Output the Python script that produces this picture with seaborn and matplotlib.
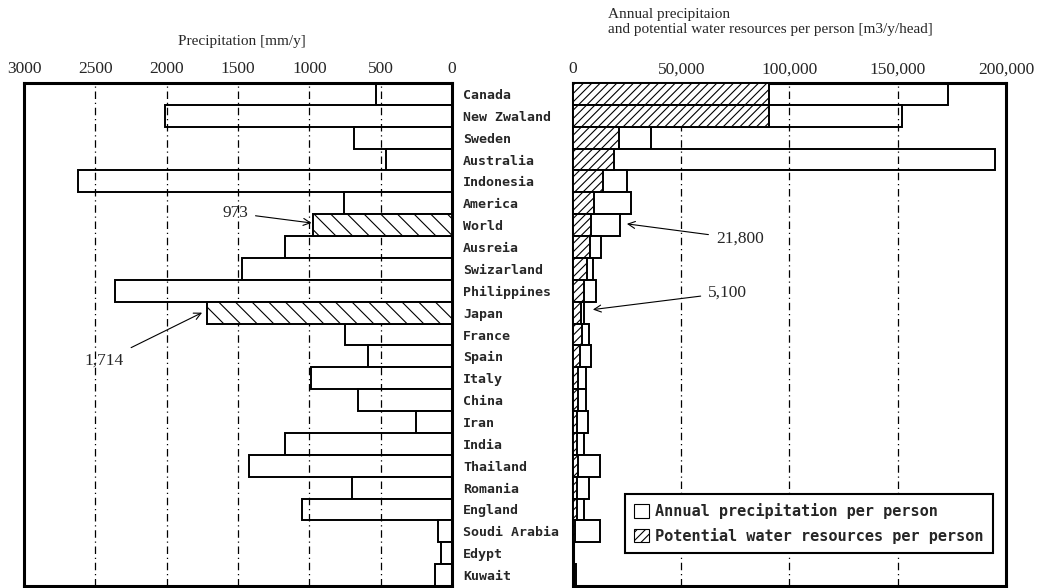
import pandas as pd
import seaborn as sns
import matplotlib.pyplot as plt
from matplotlib.patches import Patch
from matplotlib.ticker import FuncFormatter

countries = ["Canada", "New Zwaland", "Sweden", "Australia", "Indonesia", "America",
             "World", "Ausreia", "Swizarland", "Philippines", "Japan", "France",
             "Spain", "Italy", "China", "Iran", "India", "Thailand", "Romania",
             "England", "Soudi Arabia", "Edypt", "Kuwait"]
# precipitation [mm/y]
precip = [530, 2010, 685, 460, 2620, 755, 973, 1170, 1470, 2360, 1714, 750,
          590, 990, 660, 250, 1170, 1420, 700, 1050, 100, 75, 120]
# annual precipitation per person [m3/y/head]
annual = [173000, 151800, 36000, 194900, 25000, 26600, 21800, 12900, 9400, 10500,
          5100, 7500, 8100, 5800, 5800, 7100, 5100, 12400, 7400, 5200, 12400, 600, 1500]
# potential water resources per person [m3/y/head]
potential = [90500, 90500, 21200, 18900, 13700, 9700, 8200, 7800, 6300, 5200,
             3600, 4000, 3200, 2500, 2200, 1900, 1900, 2500, 1900, 1800, 800, 100, 50]

left_ticks = [3000, 2500, 2000, 1500, 1000, 500, 0]
right_ticks = [0, 50000, 100000, 150000, 200000]

df = pd.DataFrame({"country": countries, "precip": precip,
                   "annual": annual, "potential": potential})

sns.set_style("white")
plt.rcParams["font.family"] = ["Liberation Serif", "DejaVu Serif"]
plt.rcParams["hatch.linewidth"] = 0.8
MONO = "DejaVu Sans Mono"
grid_ls = (0, (6, 3, 1, 3))

fig = plt.figure(figsize=(10.41, 5.88), dpi=100)
ax1 = fig.add_axes([0.0231, 0.0034, 0.4111, 0.8554])
ax2 = fig.add_axes([0.5504, 0.0034, 0.416, 0.8554])

# ---- left: precipitation
sns.barplot(data=df, x="precip", y="country", orient="h", color="white",
            edgecolor="black", linewidth=1.4, width=1.0, saturation=1, ax=ax1)
for name, bar in zip(countries, ax1.patches):
    if name in ("World", "Japan"):
        bar.set_hatch("\\\\")
        bar.set_zorder(3)
for v in left_ticks[1:-1]:
    ax1.axvline(v, color="black", lw=0.9, ls=grid_ls, zorder=2)
ax1.set_xlim(3000, 0)
ax1.set_xticks(left_ticks)
ax1.xaxis.tick_top()
ax1.yaxis.tick_right()
ax1.tick_params(axis="x", length=0, pad=4, labelsize=12.5)
ax1.tick_params(axis="y", length=0, pad=8)
for lab in ax1.get_yticklabels():
    lab.set_fontfamily(MONO)
    lab.set_fontsize(9.5)
    lab.set_fontweight("bold")
    lab.set_horizontalalignment("left")
ax1.set_xlabel("")
ax1.set_ylabel("")

ax1.annotate("973", xy=(985, 5.9), xytext=(1520, 5.45), fontsize=12.5,
             ha="center", va="center",
             arrowprops=dict(arrowstyle="->", lw=0.8, color="black", shrinkA=3, shrinkB=0))
ax1.annotate("1,714", xy=(1752, 10.0), xytext=(2436, 12.2), fontsize=12.5,
             ha="center", va="center",
             arrowprops=dict(arrowstyle="->", lw=0.8, color="black", shrinkA=3, shrinkB=0))

# ---- right: per person
sns.barplot(data=df, x="annual", y="country", orient="h", color="white",
            edgecolor="black", linewidth=1.4, width=1.0, saturation=1, ax=ax2)
sns.barplot(data=df, x="potential", y="country", orient="h", color="white",
            edgecolor="black", linewidth=1.4, width=1.0, saturation=1, ax=ax2)
for bar in ax2.containers[1]:
    bar.set_hatch("////")
    bar.set_zorder(3)
for v in right_ticks[1:-1]:
    ax2.axvline(v, color="black", lw=0.9, ls=grid_ls, zorder=2)
ax2.set_xlim(0, 200000)
ax2.set_xticks(right_ticks)
ax2.xaxis.set_major_formatter(FuncFormatter(lambda x, p: f"{int(x):,}"))
ax2.xaxis.tick_top()
ax2.tick_params(axis="x", length=0, pad=4, labelsize=12.5)
ax2.tick_params(axis="y", length=0, labelleft=False)
ax2.set_xlabel("")
ax2.set_ylabel("")

ax2.annotate("21,800", xy=(24900, 5.94), xytext=(77000, 6.62), fontsize=12.5,
             ha="center", va="center",
             arrowprops=dict(arrowstyle="->", lw=0.8, color="black", shrinkA=3, shrinkB=0))
ax2.annotate("5,100", xy=(9200, 9.86), xytext=(71400, 9.09), fontsize=12.5,
             ha="center", va="center",
             arrowprops=dict(arrowstyle="->", lw=0.8, color="black", shrinkA=3, shrinkB=0))

handles = [Patch(facecolor="white", edgecolor="black", lw=0.8),
           Patch(facecolor="white", edgecolor="black", lw=0.8, hatch="////")]
leg = ax2.legend(handles, ["Annual precipitation per person",
                           "Potential water resources per person"],
                 loc="lower left", bbox_to_anchor=(0.12, 0.066), borderaxespad=0,
                 prop={"family": MONO, "weight": "bold", "size": 11},
                 handlelength=1.0, handleheight=1.0, handletextpad=0.4,
                 labelspacing=0.55, borderpad=0.6, fancybox=False, framealpha=1)
leg.get_frame().set_edgecolor("black")
leg.get_frame().set_linewidth(1.5)

for ax in (ax1, ax2):
    for sp in ax.spines.values():
        sp.set_visible(True)
        sp.set_color("black")
        sp.set_linewidth(2.2)

fig.text(242 / 1041, 1 - 42 / 588, "Precipitation [mm/y]", fontsize=11,
         ha="center", va="center")
fig.text(608 / 1041, 1 - 8 / 588,
         "Annual precipitaion\nand potential water resources per person [m3/y/head]",
         fontsize=11, ha="left", va="top", linespacing=1.25)

fig.savefig("out.png", dpi=100)
